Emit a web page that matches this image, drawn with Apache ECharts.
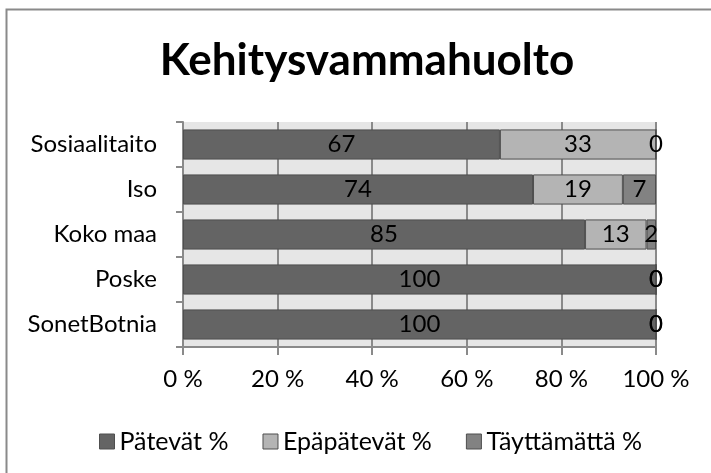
<!DOCTYPE html>
<html>
<head>
<meta charset="utf-8">
<script src="https://cdn.jsdelivr.net/npm/echarts@6/dist/echarts.min.js"></script>
<style>
  html, body { margin: 0; padding: 0; background: #fff; }
  #chart { width: 711px; height: 473px; }
</style>
</head>
<body>
<div id="chart"></div>
<script>
// luokat ylhäältä alas
var categories = ['Sosiaalitaito', 'Iso', 'Koko maa', 'Poske', 'SonetBotnia'];
var patevat = [67, 74, 85, 100, 100];
var epapatevat = [33, 19, 13, 0, 0];
var tayttamatta = [0, 7, 2, 0, 0];
var xTicks = [0, 20, 40, 60, 80, 100];

var font = 'Lato';
var chart = echarts.init(document.getElementById('chart'));

function barSeries(name, data, color) {
  return {
    name: name,
    type: 'bar',
    stack: 'total',
    data: data,
    barCategoryGap: '33%',
    itemStyle: { color: color, borderColor: '#4f4f4f', borderWidth: 1 },
    label: {
      show: true,
      position: 'inside',
      color: '#000',
      fontFamily: font,
      fontSize: 24
    },
    emphasis: { disabled: true }
  };
}

chart.setOption({
  animation: false,
  title: {
    text: 'Kehitysvammahuolto',
    left: 362,
    top: 34,
    textAlign: 'center',
    textStyle: { fontFamily: font, fontWeight: 'bold', fontSize: 44, color: '#000' }
  },
  graphic: [{
    type: 'rect',
    shape: { x: 6.5, y: 9.5, width: 760, height: 500 },
    style: { fill: 'none', stroke: '#8a8a8a', lineWidth: 2 },
    silent: true
  }],
  legend: {
    left: 94,
    top: 424,
    icon: 'rect',
    itemWidth: 15,
    itemHeight: 15,
    itemGap: 34,
    itemStyle: { borderColor: '#4f4f4f', borderWidth: 1 },
    textStyle: { fontFamily: font, fontSize: 25, color: '#000' },
    data: ['Pätevät %', 'Epäpätevät %', 'Täyttämättä %']
  },
  grid: {
    left: 183,
    right: 55,
    top: 122,
    bottom: 126,
    show: true,
    backgroundColor: '#e6e6e6',
    borderWidth: 0
  },
  xAxis: {
    type: 'value',
    min: xTicks[0],
    max: xTicks[xTicks.length - 1],
    interval: 20,
    axisLine: { show: true, lineStyle: { color: '#8a8a8a', width: 2 } },
    axisTick: { show: true, length: 8, lineStyle: { color: '#8a8a8a', width: 2 } },
    splitLine: { show: true, lineStyle: { color: '#8a8a8a', width: 2 } },
    axisLabel: {
      margin: 20,
      formatter: '{value} %',
      fontFamily: font,
      fontSize: 24,
      color: '#000'
    }
  },
  yAxis: {
    type: 'category',
    inverse: true,
    data: categories,
    axisLine: { show: true, lineStyle: { color: '#8a8a8a', width: 2 } },
    axisTick: { show: true, length: 7, lineStyle: { color: '#8a8a8a', width: 2 } },
    axisLabel: { margin: 26, fontFamily: font, fontSize: 24, color: '#000' }
  },
  series: [
    barSeries('Pätevät %', patevat, '#646464'),
    barSeries('Epäpätevät %', epapatevat, '#b4b4b4'),
    barSeries('Täyttämättä %', tayttamatta, '#828282')
  ]
});
</script>
</body>
</html>
